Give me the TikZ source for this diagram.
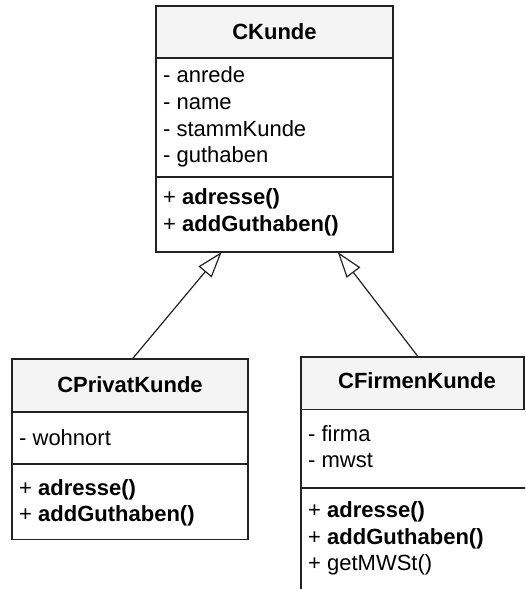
\documentclass[tikz,border=0pt]{standalone}
\usepackage{fontspec}
\setmainfont{Liberation Sans}
\usetikzlibrary{arrows.meta}
\definecolor{hdrfill}{HTML}{F4F4F4}
\definecolor{edge}{HTML}{222222}
\tikzset{
  box/.style={draw=edge, line width=1.3pt},
  hdr/.style={draw=edge, line width=1.3pt, fill=hdrfill},
  title/.style={font=\fontsize{22}{26.5}\selectfont\bfseries, anchor=base, inner sep=0pt},
  mem/.style={font=\fontsize{22}{26.5}\selectfont, anchor=base west, inner sep=0pt},
  inh/.style={draw=edge, line width=1.2pt, -{Triangle[open, length=26pt, width=17pt]}}
}
\begin{document}
\begin{tikzpicture}[x=1pt, y=-1pt]
\useasboundingbox (0,0) rectangle (525,589);
\clip (0,0) rectangle (525,589);

% CKunde
\draw[hdr] (156,6) rectangle (393,58);
\draw[box] (156,58) rectangle (393,177);
\draw[box] (156,177) rectangle (393,252);
\node[title] (kt) at (274.5,39) {CKunde};
\node[mem] (ka1) at (163,82.7) {- anrede};
\node[mem] (ka2) at (163,109.3) {- name};
\node[mem] (ka3) at (163,136) {- stammKunde};
\node[mem] (ka4) at (163,162.5) {- guthaben};
\node[mem] (km1) at (163,204.5) {+ \textbf{adresse()}};
\node[mem] (km2) at (163,231) {+ \textbf{addGuthaben()}};
\coordinate (kl) at (221.7,252);
\coordinate (kr) at (337.7,252);

% CPrivatKunde
\draw[hdr] (12,359) rectangle (248,412);
\draw[box] (12,412) rectangle (248,464);
\draw[box] (12,464) rectangle (248,539.5);
\node[title] (pt) at (130,392) {CPrivatKunde};
\node[mem] (pa1) at (19,445) {- wohnort};
\node[mem] (pm1) at (19,495) {+ \textbf{adresse()}};
\node[mem] (pm2) at (19,521.7) {+ \textbf{addGuthaben()}};
\coordinate (pc) at (132.3,359);

% CFirmenKunde
\draw[hdr] (301,357) rectangle (524,409.5);
\draw[box] (301,409.5) -- (530,409.5);
\draw[box] (301,409.5) -- (301,600);
\draw[box] (301,488) -- (530,488);
\node[title] (ft) at (417,388.5) {CFirmenKunde};
\node[mem] (fa1) at (308,441) {- firma};
\node[mem] (fa2) at (308,467.7) {- mwst};
\node[mem] (fm1) at (308,517.7) {+ \textbf{adresse()}};
\node[mem] (fm2) at (308,544.3) {+ \textbf{addGuthaben()}};
\node[mem] (fm3) at (308,570.7) {+ getMWSt()};
\coordinate (fc) at (418.3,357);

% inheritance
\draw[inh] (pc) -- (kl);
\draw[inh] (fc) -- (kr);
\end{tikzpicture}
\end{document}
